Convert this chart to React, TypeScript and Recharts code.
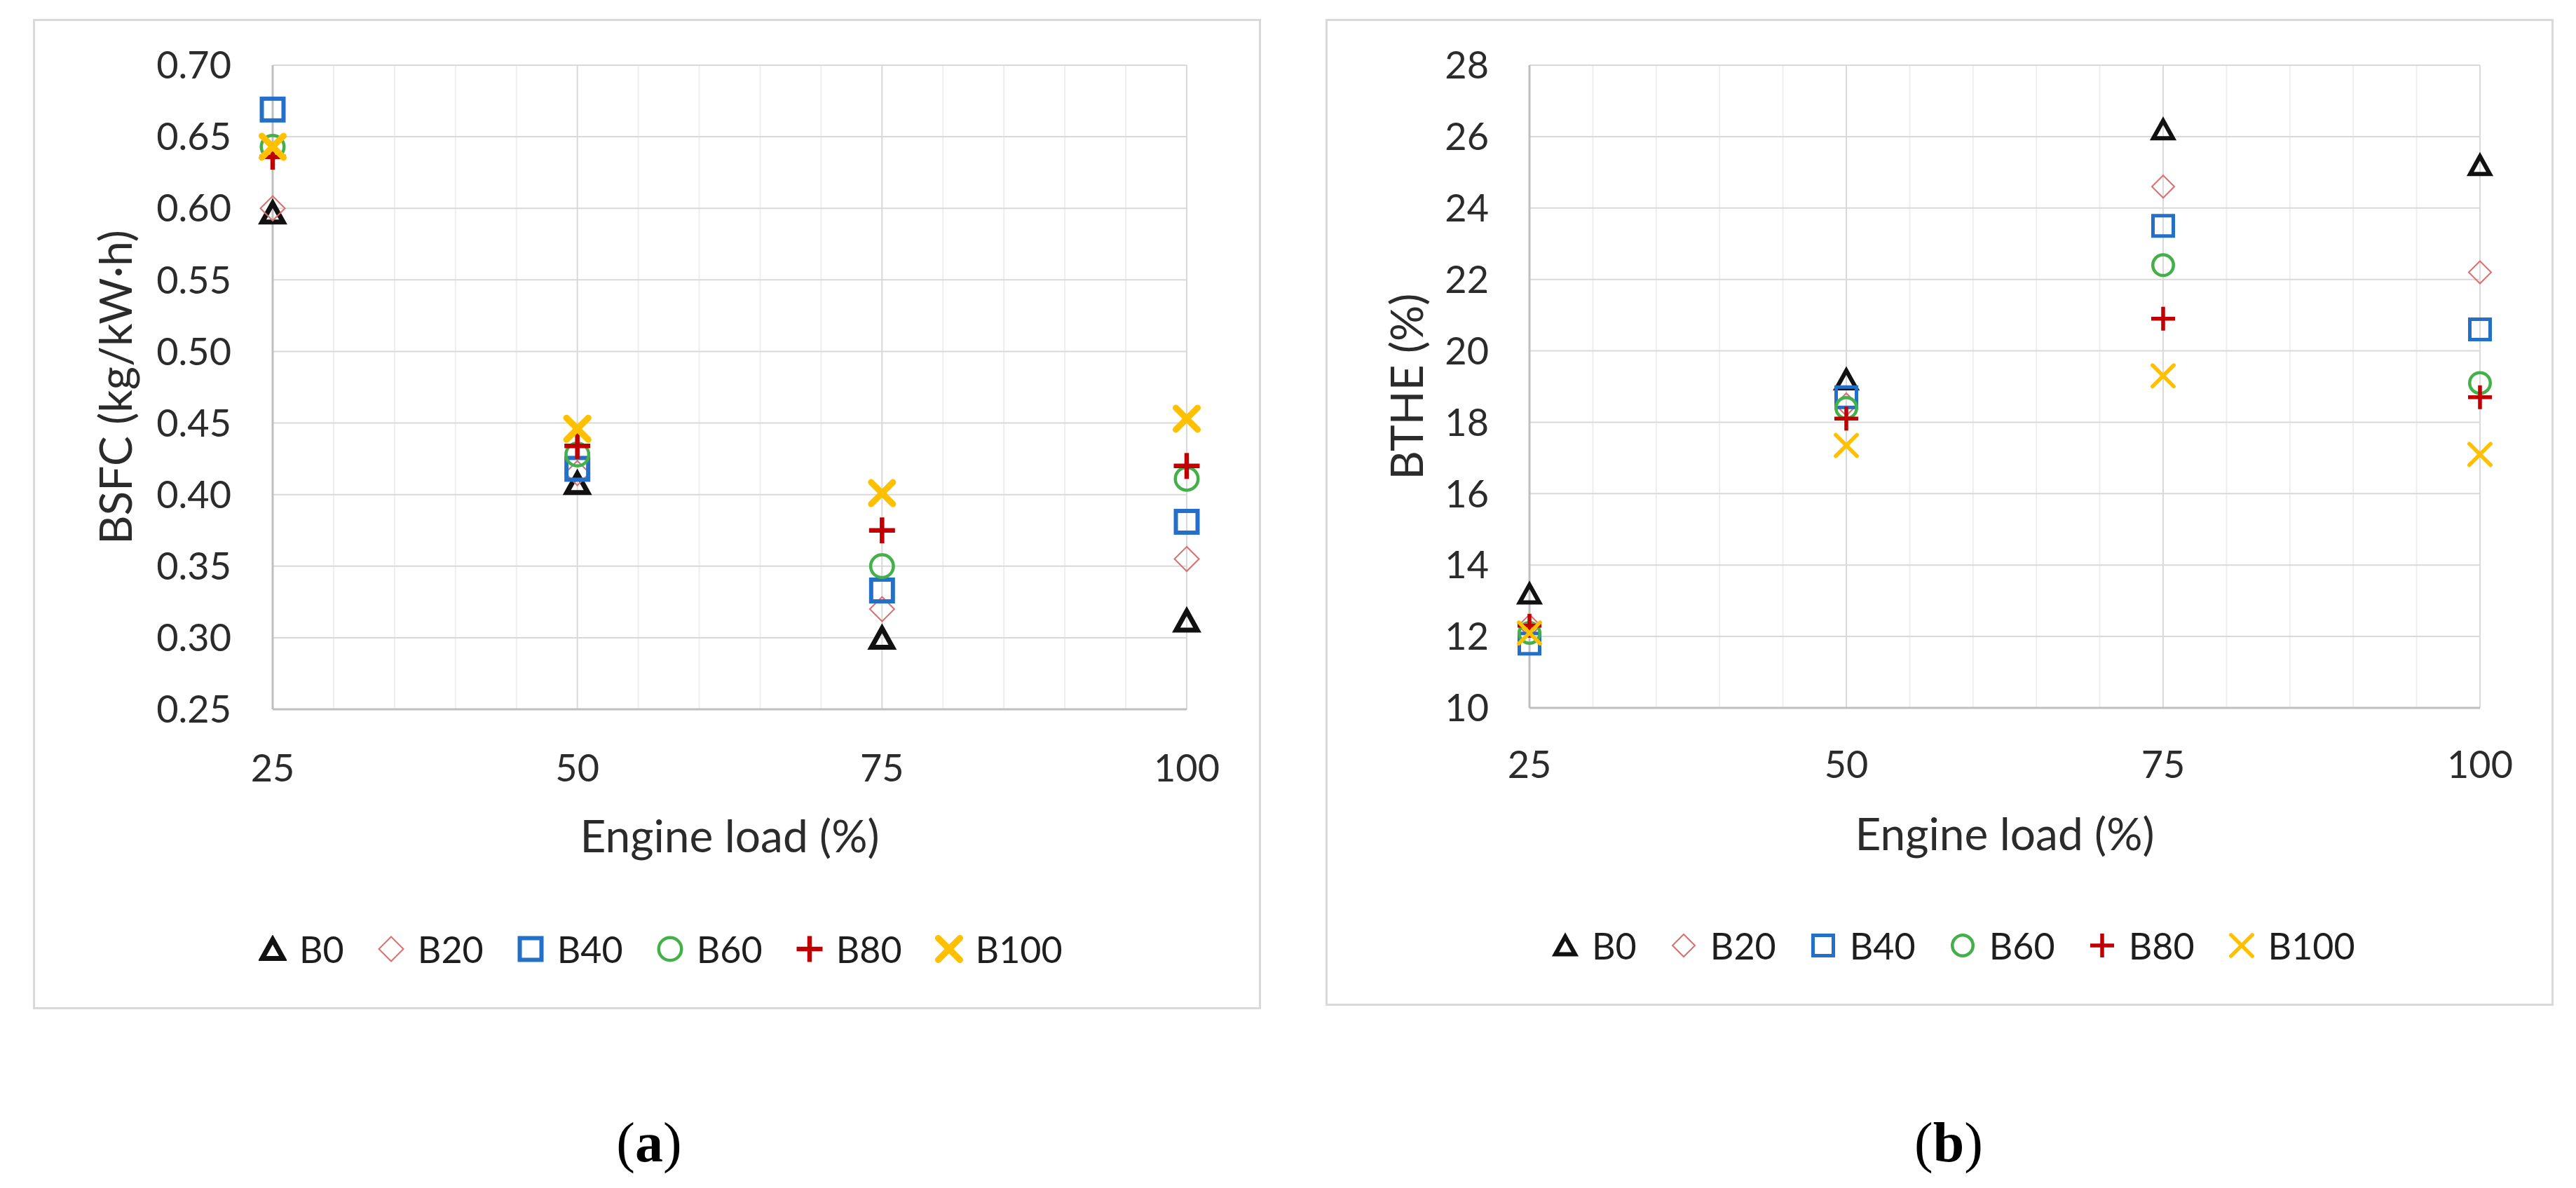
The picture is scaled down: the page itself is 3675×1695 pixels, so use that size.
import React from "react";
import { ScatterChart, Scatter, XAxis, YAxis, CartesianGrid } from "recharts";

// ---- data ----
const LOADS = [25, 50, 75, 100];
const X_TICKS = [25, 50, 75, 100];
const X_MINOR = [30, 35, 40, 45, 55, 60, 65, 70, 80, 85, 90, 95];
const BLENDS = ["B0", "B20", "B40", "B60", "B80", "B100"];

// (a) BSFC (kg/kW·h)
const bsfcB0 = [0.597, 0.408, 0.3, 0.312];
const bsfcB20 = [0.6, 0.415, 0.32, 0.355];
const bsfcB40 = [0.669, 0.418, 0.333, 0.381];
const bsfcB60 = [0.643, 0.428, 0.35, 0.411];
const bsfcB80 = [0.636, 0.434, 0.375, 0.42];
const bsfcB100 = [0.643, 0.446, 0.401, 0.453];
const BSFC_TICKS = [0.25, 0.3, 0.35, 0.4, 0.45, 0.5, 0.55, 0.6, 0.65, 0.7];

// (b) BTHE (%)
const btheB0 = [13.2, 19.2, 26.2, 25.2];
const btheB20 = [12.3, 18.5, 24.6, 22.2];
const btheB40 = [11.8, 18.7, 23.5, 20.6];
const btheB60 = [12.1, 18.4, 22.4, 19.1];
const btheB80 = [12.3, 18.1, 20.9, 18.7];
const btheB100 = [12.1, 17.35, 19.3, 17.1];
const BTHE_TICKS = [10, 12, 14, 16, 18, 20, 22, 24, 26, 28];

type Kind = "triangle" | "diamond" | "square" | "circle" | "plus" | "cross";

const KINDS: Kind[] = ["triangle", "diamond", "square", "circle", "plus", "cross"];
const COLORS = ["#111111", "#d9706e", "#2470c8", "#43b049", "#c00000", "#ffc000"];

const FONT = "Lato, 'Open Sans', sans-serif";
const TEXT = "#2b2b2b";

type MarkerSet = { size: number; sw: number[] };

function drawMarker(kind: Kind, cx: number, cy: number, size: number, color: string, sw: number) {
  const s = size - sw;
  const h = s / 2;
  switch (kind) {
    case "triangle": {
      const pts = `${cx},${cy - h * 0.9} ${cx + h},${cy + h * 0.9} ${cx - h},${cy + h * 0.9}`;
      return <polygon points={pts} fill="none" stroke={color} strokeWidth={sw} strokeLinejoin="miter" />;
    }
    case "diamond": {
      const pts = `${cx},${cy - h} ${cx + h},${cy} ${cx},${cy + h} ${cx - h},${cy}`;
      return <polygon points={pts} fill="none" stroke={color} strokeWidth={sw} />;
    }
    case "square":
      return <rect x={cx - h} y={cy - h} width={s} height={s} fill="none" stroke={color} strokeWidth={sw} />;
    case "circle":
      return <circle cx={cx} cy={cy} r={h} fill="none" stroke={color} strokeWidth={sw} />;
    case "plus": {
      const r = size / 2;
      return (
        <g stroke={color} strokeWidth={sw}>
          <line x1={cx - r} y1={cy} x2={cx + r} y2={cy} />
          <line x1={cx} y1={cy - r} x2={cx} y2={cy + r} />
        </g>
      );
    }
    case "cross": {
      const r = size / 2 - sw / 3;
      return (
        <g stroke={color} strokeWidth={sw} strokeLinecap="round">
          <line x1={cx - r} y1={cy - r} x2={cx + r} y2={cy + r} />
          <line x1={cx - r} y1={cy + r} x2={cx + r} y2={cy - r} />
        </g>
      );
    }
  }
}

interface PanelProps {
  left: number;
  top: number;
  width: number;
  height: number;
  yAxisWidth: number;
  marginRight: number;
  plotBottom: number;
  yTicks: number[];
  yDigits: number;
  yLabel: string;
  yLabelX: number;
  values: number[][];
  markers: MarkerSet;
  xTickGap: number;
  yTickGap: number;
  titleOffset: number;
  legendY: number;
  caption: string;
  captionX: number;
}

function Legend({ markers }: { markers: MarkerSet }) {
  return (
    <div style={{ display: "flex", alignItems: "center", fontFamily: FONT, fontSize: 52, color: "#1e1e1e" }}>
      {BLENDS.map((name, i) => (
        <div key={name} style={{ display: "flex", alignItems: "center", marginRight: i < BLENDS.length - 1 ? 47 : 0 }}>
          <svg width={40} height={40} style={{ marginRight: 18 }}>
            {drawMarker(KINDS[i], 20, 20, markers.size, COLORS[i], markers.sw[i])}
          </svg>
          <span style={{ lineHeight: "60px" }}>{name}</span>
        </div>
      ))}
    </div>
  );
}

function Panel(p: PanelProps) {
  const xAxisHeight = p.height - p.plotBottom;
  const yDomain = [p.yTicks[0], p.yTicks[p.yTicks.length - 1]];
  return (
    <>
      <div
        style={{
          position: "absolute",
          left: p.left,
          top: p.top,
          width: p.width,
          height: p.height,
          border: "3px solid #d9d9d9",
          boxSizing: "border-box",
        }}
      />
      <div style={{ position: "absolute", left: p.left, top: p.top }}>
        <ScatterChart
          width={p.width}
          height={p.height}
          margin={{ top: 66, right: p.marginRight, bottom: 0, left: 0 }}
          style={{ fontFamily: FONT }}
        >
          <CartesianGrid verticalValues={X_MINOR} horizontal={false} stroke="#eeeeee" strokeWidth={2} />
          <CartesianGrid stroke="#d9d9d9" strokeWidth={2} />
          <XAxis
            type="number"
            dataKey="x"
            domain={[25, 100]}
            ticks={X_TICKS}
            interval={0}
            tickLine={false}
            tickSize={0}
            tickMargin={p.xTickGap}
            height={xAxisHeight}
            axisLine={{ stroke: "#bfbfbf", strokeWidth: 3 }}
            tick={{ fill: TEXT, fontSize: 54, fontFamily: FONT }}
            label={{
              value: "Engine load (%)",
              position: "insideTop",
              offset: p.titleOffset,
              style: { fill: TEXT, fontSize: 64, fontFamily: FONT },
            }}
          />
          <YAxis
            type="number"
            dataKey="y"
            domain={yDomain}
            ticks={p.yTicks}
            interval={0}
            tickLine={false}
            tickSize={0}
            tickMargin={p.yTickGap}
            width={p.yAxisWidth}
            axisLine={{ stroke: "#bfbfbf", strokeWidth: 3 }}
            tick={{ fill: TEXT, fontSize: 54, fontFamily: FONT }}
            tickFormatter={(v: number) => v.toFixed(p.yDigits)}
            label={{
              value: p.yLabel,
              angle: -90,
              position: "insideLeft",
              offset: p.yLabelX,
              style: { fill: TEXT, fontSize: 64, fontFamily: FONT, textAnchor: "middle" },
            }}
          />
          {p.values.map((vals, i) => (
            <Scatter
              key={BLENDS[i]}
              name={BLENDS[i]}
              data={LOADS.map((x, j) => ({ x, y: vals[j] }))}
              isAnimationActive={false}
              shape={(sp: any) => drawMarker(KINDS[i], sp.cx, sp.cy, p.markers.size, COLORS[i], p.markers.sw[i])}
            />
          ))}
        </ScatterChart>
      </div>
      <div style={{ position: "absolute", left: p.left + 322, top: p.top + p.legendY - 30, height: 60 }}>
        <Legend markers={p.markers} />
      </div>
      <div
        style={{
          position: "absolute",
          left: p.captionX - 200,
          width: 400,
          top: 1630 - 50,
          height: 100,
          lineHeight: "100px",
          textAlign: "center",
          fontFamily: "'Liberation Serif', 'Times New Roman', serif",
          fontSize: 80,
          color: "#000",
        }}
      >
        (<b>{p.caption}</b>)
      </div>
    </>
  );
}

export default function App() {
  return (
    <div style={{ position: "absolute", left: 0, top: 0, width: 3675, height: 1695, background: "#fff", overflow: "hidden" }}>
      <Panel
        left={47}
        top={27}
        width={1752}
        height={1413}
        yAxisWidth={342}
        marginRight={106}
        plotBottom={985}
        yTicks={BSFC_TICKS}
        yDigits={2}
        yLabel="BSFC (kg/kW·h)"
        yLabelX={118}
        values={[bsfcB0, bsfcB20, bsfcB40, bsfcB60, bsfcB80, bsfcB100]}
        markers={{ size: 37, sw: [7, 2, 6, 4.5, 6.5, 9] }}
        xTickGap={65}
        yTickGap={59}
        titleOffset={159}
        legendY={1327}
        caption="a"
        captionX={926}
      />
      <Panel
        left={1891}
        top={27}
        width={1752}
        height={1408}
        yAxisWidth={291}
        marginRight={105}
        plotBottom={983}
        yTicks={BTHE_TICKS}
        yDigits={0}
        yLabel="BTHE  (%)"
        yLabelX={116}
        values={[btheB0, btheB20, btheB40, btheB60, btheB80, btheB100]}
        markers={{ size: 34, sw: [6, 2, 5, 4.5, 5.5, 5.5] }}
        xTickGap={62}
        yTickGap={58}
        titleOffset={158}
        legendY={1322}
        caption="b"
        captionX={2780}
      />
    </div>
  );
}
